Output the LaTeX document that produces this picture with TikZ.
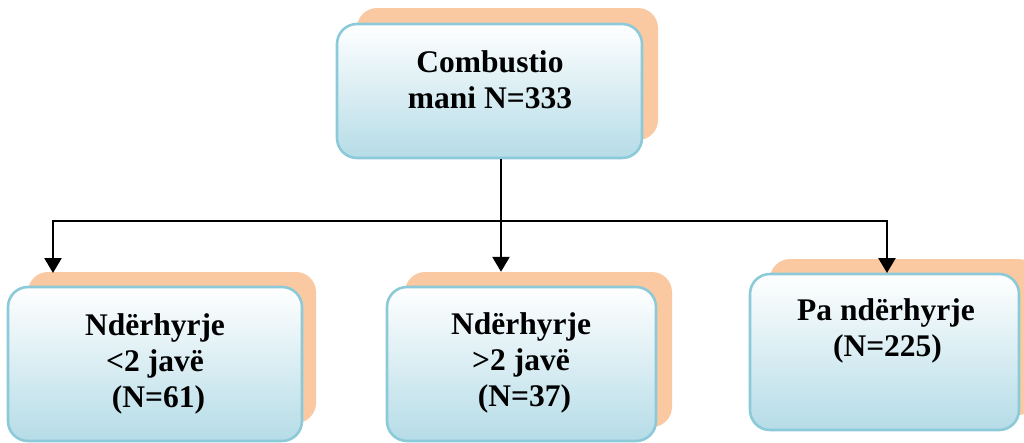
\documentclass[tikz,border=0pt]{standalone}
\usepackage{fontspec}
\setmainfont{Liberation Serif}
\usetikzlibrary{arrows.meta}
\definecolor{peach}{HTML}{FBC9A1}
\definecolor{boxbot}{HTML}{B5DCE7}
\definecolor{boxline}{HTML}{8CCAD9}
\tikzset{
  frontbox/.style={draw=boxline, line width=2.6pt, rounded corners=20pt,
    top color=white, bottom color=boxbot, inner sep=0pt},
  backbox/.style={fill=peach, rounded corners=20pt, inner sep=0pt},
  lbl/.style={font=\fontsize{31.5}{36}\selectfont\bfseries, align=center, inner sep=0pt},
  conn/.style={line width=2.6pt, black},
  arr/.style={conn, -{Triangle[length=15pt,width=17pt]}}
}
\begin{document}
\begin{tikzpicture}[x=1pt,y=-1pt]
\useasboundingbox (0,0) rectangle (1024,442);
% shadows
\node[backbox, minimum width=301pt, minimum height=132pt] (tops) at (507.5,74) {};
\node[backbox, minimum width=288pt, minimum height=151pt] (ls) at (172,347.5) {};
\node[backbox, minimum width=267pt, minimum height=155pt] (ms) at (538.5,349.5) {};
\node[backbox, minimum width=268pt, minimum height=156pt] (rs) at (904,337) {};
% front boxes
\node[frontbox, minimum width=305pt, minimum height=134pt] (top) at (489.5,91) {};
\node[frontbox, minimum width=294pt, minimum height=154pt] (lb) at (155,364) {};
\node[frontbox, minimum width=269pt, minimum height=154pt] (mb) at (521.5,364) {};
\node[frontbox, minimum width=269pt, minimum height=156pt] (rb) at (884.5,352) {};
% labels
\node[lbl] (toplbl) at (490,80) {Combustio\\mani N=333};
\node[lbl] (lblbl) at (155,364) {Ndërhyrje\\<2 javë\\\hspace*{7pt}(N=61)};
\node[lbl] (mblbl) at (521,363) {Ndërhyrje\\>2 javë\\\hspace*{7pt}(N=37)};
\node[lbl] (rblbl) at (886,331) {Pa ndërhyrje\\\hspace*{3pt}(N=225)};
% connectors
\coordinate (j) at (501,221);
\draw[conn] (j |- top.south) -- (j);
\draw[arr] (j) -| (53,273);
\draw[arr] (j) -- (j |- ms.north);
\draw[arr] (j) -| (887,273);
\end{tikzpicture}
\end{document}
